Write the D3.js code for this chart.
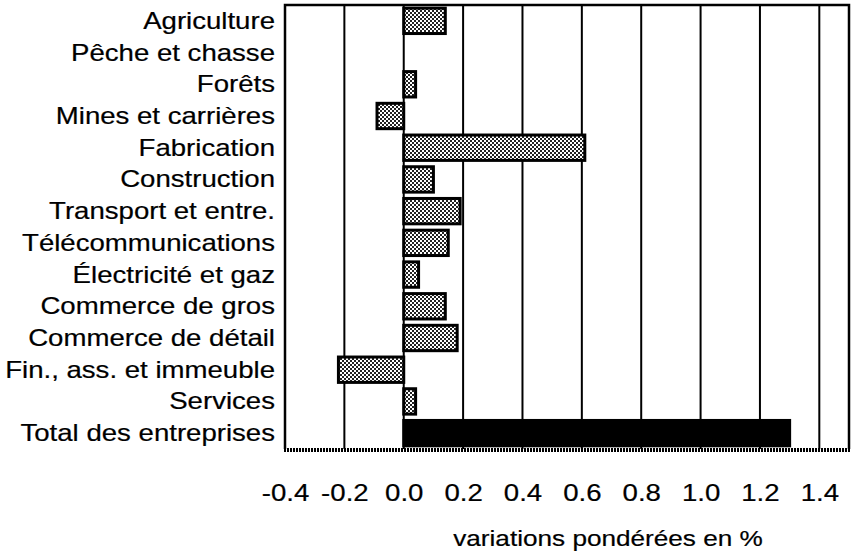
<!DOCTYPE html>
<html>
<head>
<meta charset="utf-8">
<script src="https://cdn.jsdelivr.net/npm/d3@7"></script>
<style>
  body { margin: 0; background: #fff; }
  text { font-family: "Liberation Sans", Arial, sans-serif; fill: #000; stroke: #000; stroke-width: 0.2px; }
</style>
</head>
<body>
<svg id="chart" width="854" height="555"></svg>
<script>
const categories = [
  "Agriculture", "Pêche et chasse", "Forêts", "Mines et carrières",
  "Fabrication", "Construction", "Transport et entre.", "Télécommunications",
  "Électricité et gaz", "Commerce de gros ", "Commerce de détail",
  "Fin., ass. et immeuble", "Services", "Total des entreprises"
];
const values = [0.14, 0, 0.04, -0.09, 0.61, 0.10, 0.19, 0.15, 0.05, 0.14, 0.18, -0.22, 0.04, 1.30];
const ticks = [-0.4, -0.2, 0.0, 0.2, 0.4, 0.6, 0.8, 1.0, 1.2, 1.4];
const axisTitle = "variations pondérées en %";

let svg = d3.select("#chart");
let pLeft = 285, pRight = 849, pTop = 5, pBottom = 449;
let stretch = 1.2;

let x = d3.scaleLinear().domain([-0.4, 1.5]).range([pLeft, pRight]);
let y = d3.scaleBand().domain(categories).range([pTop, pBottom]).paddingInner(0.2).paddingOuter(0.1);

// dither pattern for the ordinary bars
let defs = svg.append("defs");
let pat = defs.append("pattern")
    .attr("id", "dots")
    .attr("patternUnits", "userSpaceOnUse")
    .attr("width", 4).attr("height", 4);
pat.append("rect").attr("width", 4).attr("height", 4).attr("fill", "#222");
pat.append("rect").attr("x", 0).attr("y", 0).attr("width", 2).attr("height", 2).attr("fill", "#fff");
pat.append("rect").attr("x", 2).attr("y", 2).attr("width", 2).attr("height", 2).attr("fill", "#fff");

// vertical grid lines
svg.append("g")
    .selectAll("line")
    .data(ticks.slice(1))
    .enter()
    .append("line")
    .attr("x1", d => x(d)).attr("x2", d => x(d))
    .attr("y1", pTop).attr("y2", pBottom)
    .attr("stroke", "#000")
    .attr("stroke-width", 2);

// bars
svg.append("g")
    .selectAll("rect")
    .data(values)
    .enter()
    .append("rect")
    .attr("x", d => x(Math.min(0, d)))
    .attr("width", d => Math.abs(x(d) - x(0)))
    .attr("y", (d, i) => y(categories[i]))
    .attr("height", y.bandwidth())
    .attr("fill", (d, i) => i == categories.length - 1 ? "#000" : "url(#dots)")
    .attr("stroke", "#000")
    .attr("stroke-width", (d) => d == 0 ? 0 : 3);

// frame
svg.append("path")
    .attr("d", `M${pLeft},${pBottom} V${pTop} H${pRight} V${pBottom}`)
    .attr("fill", "none")
    .attr("stroke", "#000")
    .attr("stroke-width", 2.5);
svg.append("line")
    .attr("x1", pLeft - 1).attr("x2", pRight + 1)
    .attr("y1", pBottom + 1).attr("y2", pBottom + 1)
    .attr("stroke", "#000")
    .attr("stroke-width", 4)
    .attr("stroke-dasharray", "2,1");

// category labels
svg.append("g")
    .selectAll("text")
    .data(categories)
    .enter()
    .append("text")
    .attr("transform", d => `translate(275,${y(d) + y.bandwidth() / 2}) scale(${stretch},1)`)
    .attr("dy", "0.35em")
    .attr("text-anchor", "end")
    .attr("font-size", 23)
    .text(d => d);

// x axis
let xAxis = d3.axisBottom(x)
    .tickValues(ticks)
    .tickSize(0)
    .tickPadding(0)
    .tickFormat(d3.format(".1f"));
let gx = svg.append("g")
    .attr("transform", `translate(0,${pBottom})`)
    .call(xAxis);
gx.select(".domain").remove();
gx.selectAll("text")
    .attr("y", 0)
    .attr("dy", 0)
    .attr("transform", `translate(0,52) scale(${stretch},1)`)
    .attr("font-size", 23)
    .attr("font-family", "Liberation Sans, Arial, sans-serif")
    .attr("fill", "#000")
    .text(d => d3.format(".1f")(d).replace("−", "-"));

svg.append("text")
    .attr("transform", `translate(608,546) scale(${stretch},1)`)
    .attr("text-anchor", "middle")
    .attr("font-size", 21.8)
    .text(axisTitle);
</script>
</body>
</html>
